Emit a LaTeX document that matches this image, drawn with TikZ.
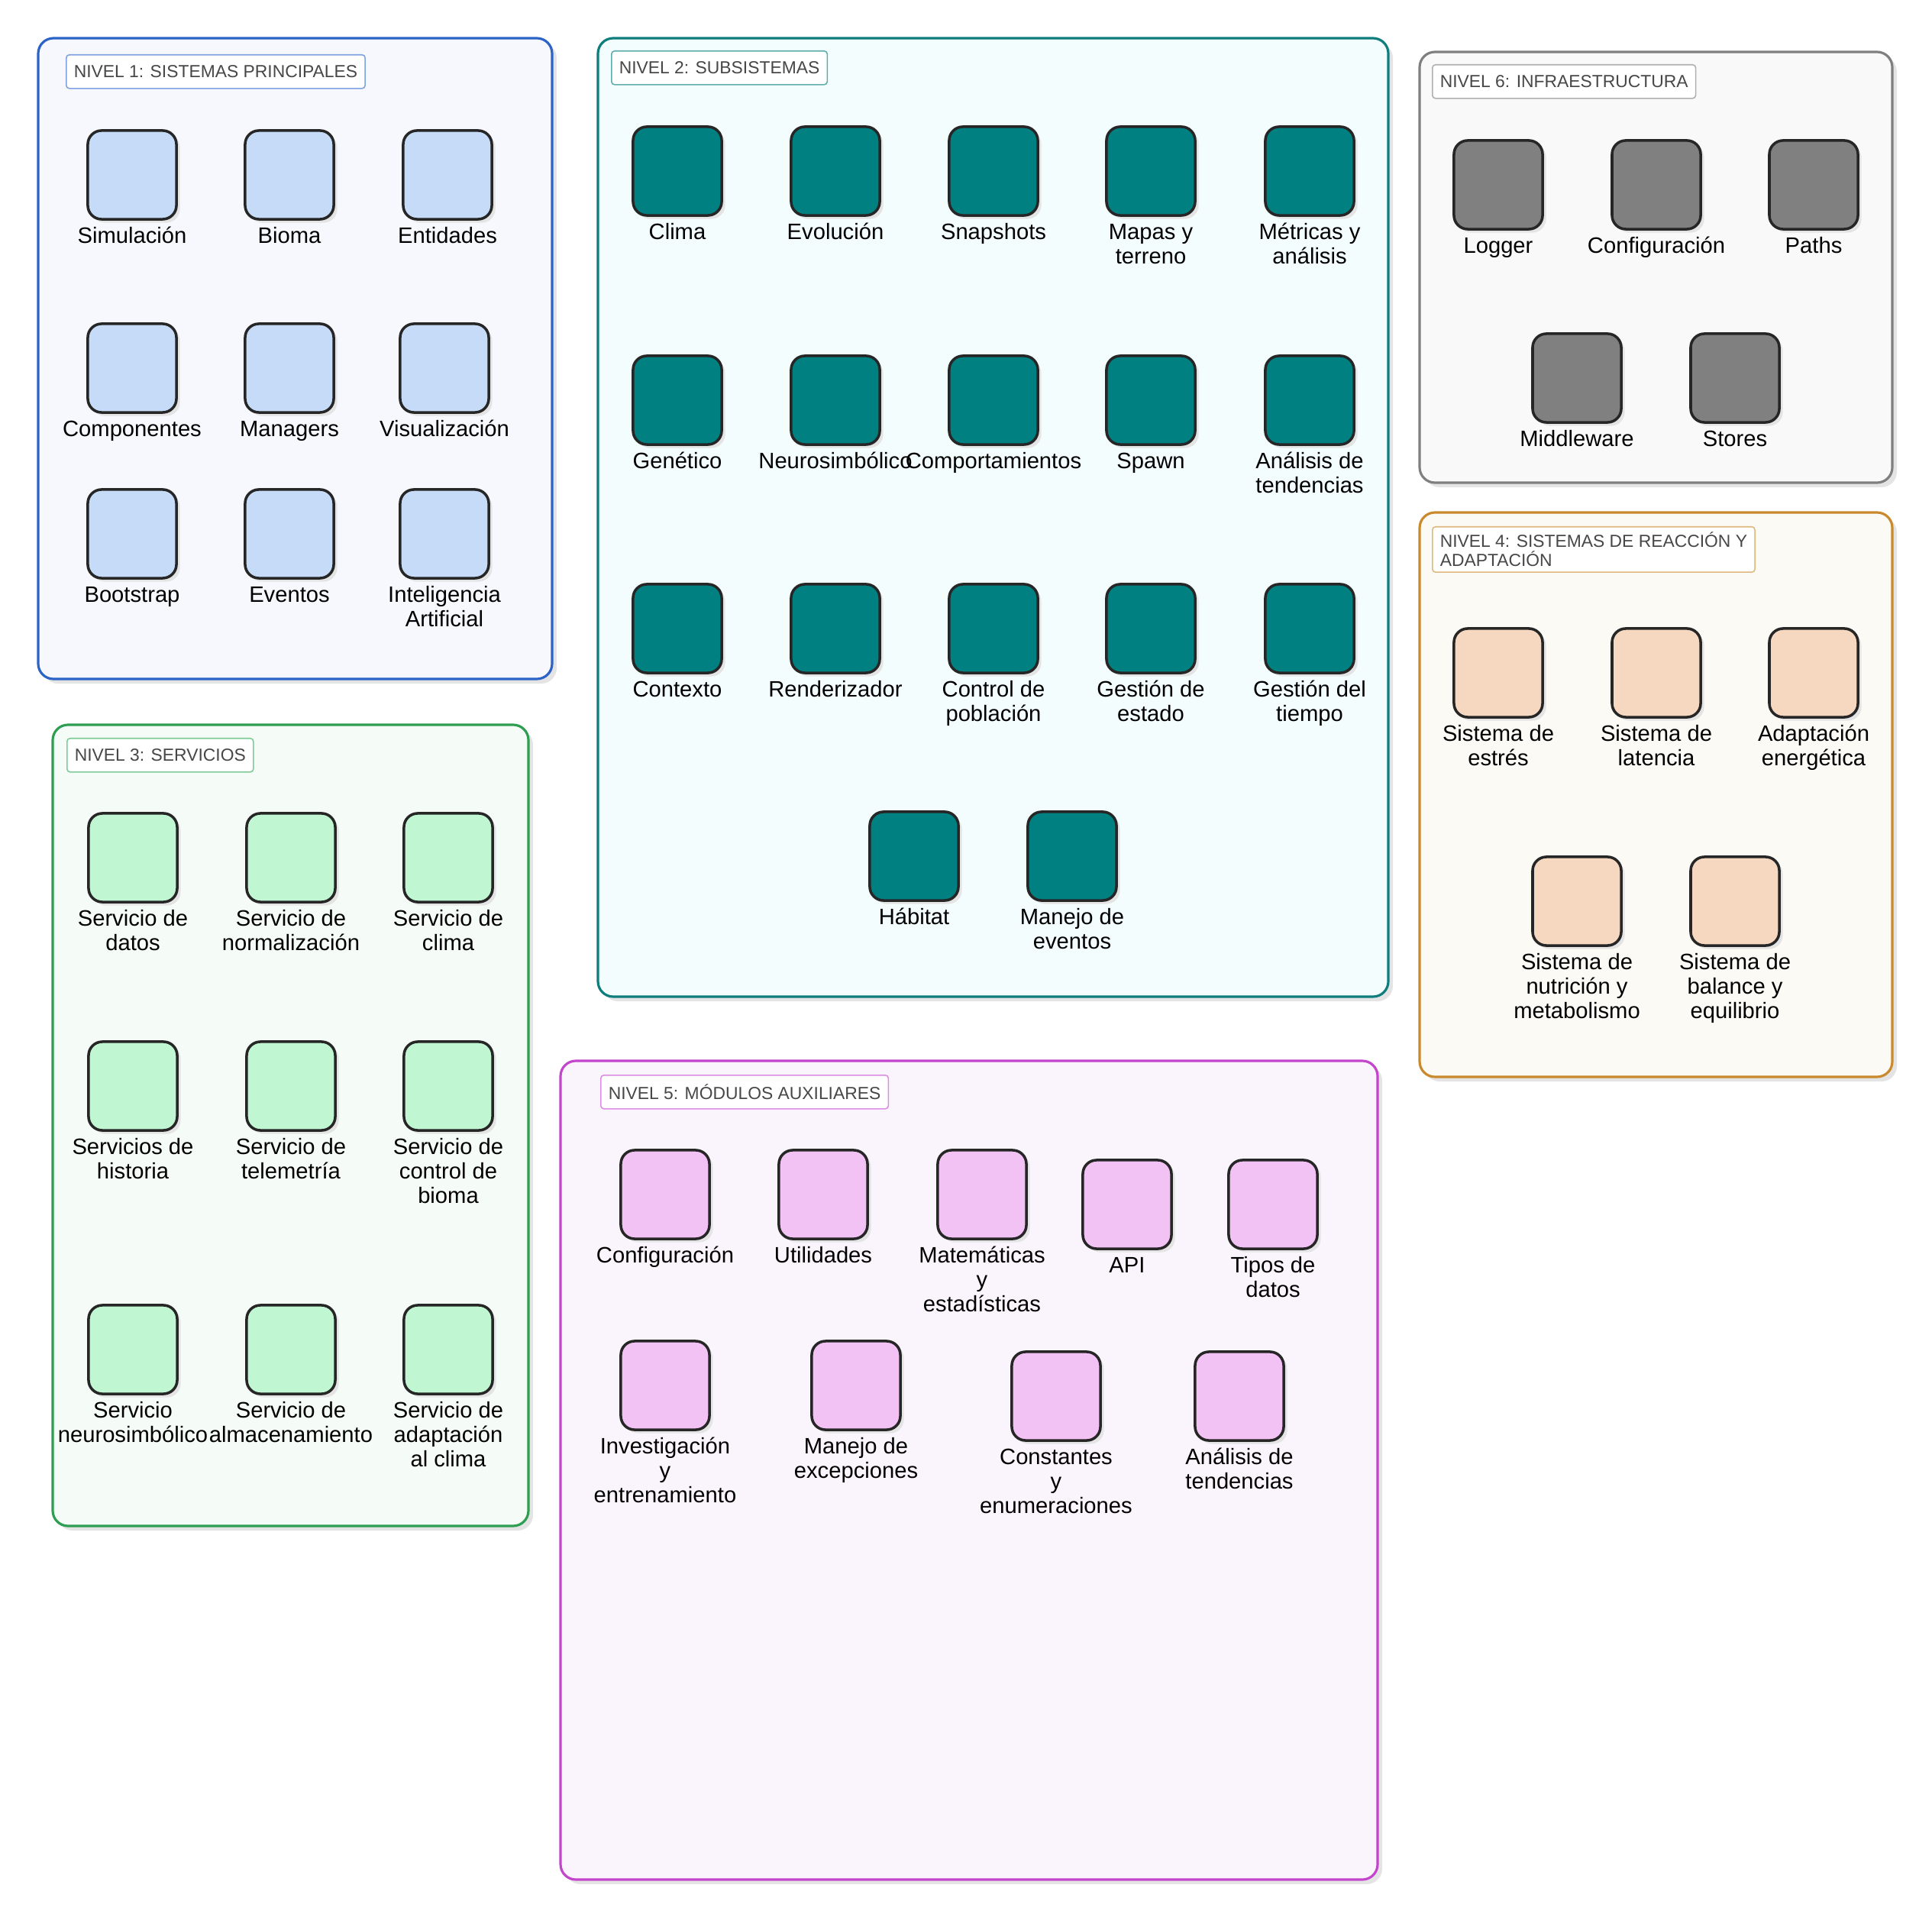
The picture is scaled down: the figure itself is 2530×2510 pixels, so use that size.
\documentclass[tikz,border=0pt]{standalone}
\usepackage{fontspec}
\setmainfont{Liberation Sans}
\usetikzlibrary{positioning,shadows}

\definecolor{azulB}{HTML}{2B63C6}\definecolor{azulF}{HTML}{F7F8FD}
\definecolor{azulT}{HTML}{7FA3E0}\definecolor{azulN}{HTML}{C6DBF8}
\definecolor{tealB}{HTML}{0F7D7C}\definecolor{tealF}{HTML}{F3FDFD}
\definecolor{tealT}{HTML}{5FAEAD}\definecolor{tealN}{HTML}{008080}
\definecolor{grisB}{HTML}{7F7F7F}\definecolor{grisF}{HTML}{F9F9F9}
\definecolor{grisT}{HTML}{B0B0B0}\definecolor{grisN}{HTML}{808080}
\definecolor{ocreB}{HTML}{C98A2E}\definecolor{ocreF}{HTML}{FBFAF5}
\definecolor{ocreT}{HTML}{DEB87E}\definecolor{ocreN}{HTML}{F6D8C1}
\definecolor{verdeB}{HTML}{2E9E52}\definecolor{verdeF}{HTML}{F5FBF7}
\definecolor{verdeT}{HTML}{7FCB97}\definecolor{verdeN}{HTML}{C0F7D2}
\definecolor{rosaB}{HTML}{C345CC}\definecolor{rosaF}{HTML}{FAF5FC}
\definecolor{rosaT}{HTML}{DD8DE3}\definecolor{rosaN}{HTML}{F3C2F5}
\definecolor{borde}{HTML}{262626}
\definecolor{sombra}{HTML}{E4E4E4}

\tikzstyle{nivel}=[rounded corners=0.2cm,line width=0.9pt,
  drop shadow={shadow xshift=1.7pt,shadow yshift=-1.7pt,fill=sombra,opacity=1}]
\tikzstyle{titulo}=[draw,fill=white,rounded corners=0.04cm,line width=0.45pt,
  anchor=north west,inner xsep=0.1cm,inner ysep=0.07cm,minimum height=0.44cm,
  text=black!72,align=left,font=\fontsize{6.5}{7.2}\selectfont]
\tikzstyle{modulo}=[draw=borde,line width=1pt,rounded corners=0.18cm,
  minimum size=1.16cm,inner sep=0pt,
  drop shadow={shadow xshift=1.3pt,shadow yshift=-1.3pt,fill=sombra,opacity=1}]
\tikzstyle{etiqueta}=[align=center,inner sep=0pt,font=\fontsize{8.3}{9.1}\selectfont]
\newcommand{\alto}{\rule{0pt}{7.8pt}}
% caja: nombre, x, y, relleno, texto
\newcommand{\caja}[5]{%
  \node[modulo,fill=#4] (#1) at (#2,#3) {};
  \node[etiqueta,below=0.02cm of #1] (#1-t) {\alto#5};
}

\begin{document}
\begin{tikzpicture}[x=0.01cm,y=-0.01cm]
\useasboundingbox (0,0) rectangle (2530,2510);

% nivel 1
\draw[nivel,draw=azulB,fill=azulF] (50,50) rectangle (723,889);
\node[titulo,draw=azulT] (n1) at (86,71) {NIVEL 1: SISTEMAS PRINCIPALES};
\foreach \n/\x/\y/\etq in {sim/173/229/Simulación, bioma/379/229/Bioma, ent/586/229/Entidades,
    comp/173/482/Componentes, man/379/482/Managers, vis/582/482/Visualización,
    boot/173/699/Bootstrap, ev/379/699/Eventos, ia/582/699/Inteligencia\\Artificial}
  \caja{\n}{\x}{\y}{azulN}{\etq};

% nivel 2
\draw[nivel,draw=tealB,fill=tealF] (783,50) rectangle (1818,1305);
\node[titulo,draw=tealT] (n2) at (800,66) {NIVEL 2: SUBSISTEMAS};
\foreach \n/\x/\y/\etq in {clima/887/224/Clima, evo/1094/224/Evolución, snap/1301/224/Snapshots,
    mapas/1507/224/Mapas y\\terreno, metr/1715/224/Métricas y\\análisis,
    gen/887/524/Genético, neuro/1094/524/Neurosimbólico, compt/1301/524/Comportamientos,
    spawn/1507/524/Spawn, tend/1715/524/Análisis de\\tendencias,
    ctx/887/823/Contexto, rend/1094/823/Renderizador, pobl/1301/823/Control de\\población,
    est/1507/823/Gestión de\\estado, tiem/1715/823/Gestión del\\tiempo,
    hab/1197/1121/Hábitat, mev/1404/1121/Manejo de\\eventos}
  \caja{\n}{\x}{\y}{tealN}{\etq};

% nivel 6
\draw[nivel,draw=grisB,fill=grisF] (1859,68) rectangle (2478,632);
\node[titulo,draw=grisT] (n6) at (1875,84) {NIVEL 6: INFRAESTRUCTURA};
\foreach \n/\x/\y/\etq in {log/1962/242/Logger, conf/2169/242/Configuración, paths/2375/242/Paths,
    mid/2065/495/Middleware, stores/2272/495/Stores}
  \caja{\n}{\x}{\y}{grisN}{\etq};

% nivel 4
\draw[nivel,draw=ocreB,fill=ocreF] (1859,671) rectangle (2478,1410);
\node[titulo,draw=ocreT] (n4) at (1875,689) {NIVEL 4: SISTEMAS DE REACCIÓN Y\\ADAPTACIÓN};
\foreach \n/\x/\y/\etq in {estres/1962/881/Sistema de\\estrés, lat/2169/881/Sistema de\\latencia,
    ener/2375/881/Adaptación\\energética, nutr/2065/1180/Sistema de\\nutrición y\\metabolismo,
    bal/2272/1180/Sistema de\\balance y\\equilibrio}
  \caja{\n}{\x}{\y}{ocreN}{\etq};

% nivel 3
\draw[nivel,draw=verdeB,fill=verdeF] (69,949) rectangle (692,1998);
\node[titulo,draw=verdeT] (n3) at (87,966) {NIVEL 3: SERVICIOS};
\foreach \n/\x/\y/\etq in {sdat/174/1123/Servicio de\\datos, snor/381/1123/Servicio de\\normalización,
    scli/587/1123/Servicio de\\clima, shis/174/1422/Servicios de\\historia,
    stel/381/1422/Servicio de\\telemetría, sbio/587/1422/Servicio de\\control de\\bioma,
    sneu/174/1767/Servicio\\neurosimbólico, salm/381/1767/Servicio de\\almacenamiento,
    sada/587/1767/Servicio de\\adaptación\\al clima}
  \caja{\n}{\x}{\y}{verdeN}{\etq};

% nivel 5
\draw[nivel,draw=rosaB,fill=rosaF] (734,1389) rectangle (1804,2461);
\node[titulo,draw=rosaT] (n5) at (786,1407) {NIVEL 5: MÓDULOS AUXILIARES};
\foreach \n/\x/\y/\etq in {aconf/871/1564/Configuración, util/1078/1564/Utilidades,
    mat/1286/1564/Matemáticas\\y\\estadísticas, api/1476/1577/API, tipos/1667/1577/Tipos de\\datos,
    inv/871/1814/Investigación\\y\\entrenamiento, exc/1121/1814/Manejo de\\excepciones,
    cons/1383/1828/Constantes\\y\\enumeraciones, atend/1623/1828/Análisis de\\tendencias}
  \caja{\n}{\x}{\y}{rosaN}{\etq};
\end{tikzpicture}
\end{document}
